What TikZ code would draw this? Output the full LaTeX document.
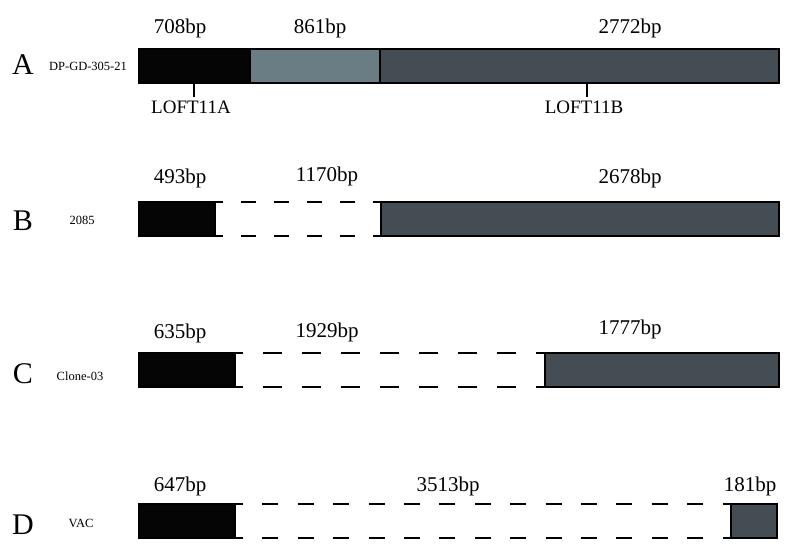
\documentclass[tikz,border=0pt]{standalone}
\usepackage{fontspec}
\setmainfont{Liberation Serif}
\definecolor{segblack}{HTML}{050505}
\definecolor{seggrey}{HTML}{6A7D84}
\definecolor{segdark}{HTML}{444C54}
\begin{document}
\begin{tikzpicture}[x=1pt,y=-1pt,
  seg/.style={draw=black, line width=1.3pt, anchor=north west, inner sep=0pt, outer sep=0pt, minimum height=34pt},
  bplabel/.style={anchor=base, inner sep=0pt, font=\fontsize{21}{21}\selectfont},
  rowletter/.style={anchor=base, inner sep=0pt, font=\fontsize{30}{30}\selectfont},
  samplename/.style={anchor=base, inner sep=0pt, font=\fontsize{12.5}{12.5}\selectfont},
  locus/.style={anchor=base, inner sep=0pt, font=\fontsize{19}{19}\selectfont},
  gapline/.style={line width=1.4pt}
]
\useasboundingbox[fill=white] (0,0) rectangle (786,548);

% Row A
\node[rowletter] (la) at (23,75) {A};
\node[samplename] (na) at (88,71) {DP-GD-305-21};
\node[seg, fill=segblack, minimum width=111pt] (a1) at (139,49) {};
\node[seg, fill=seggrey, minimum width=130pt] (a2) at (250,49) {};
\node[seg, fill=segdark, minimum width=399pt] (a3) at (380,49) {};
\node[bplabel] (ta1) at (180,34) {708bp};
\node[bplabel] (ta2) at (320,34) {861bp};
\node[bplabel] (ta3) at (630,34) {2772bp};
\coordinate (pa) at (194,83);
\coordinate (pb) at (587,83);
\node[locus] (loa) at (191,114) {LOFT11A};
\node[locus] (lob) at (584,114) {LOFT11B};
\draw[line width=1.3pt] (pa) -- ++(0,14);
\draw[line width=1.3pt] (pb) -- ++(0,14);

% Row B
\node[rowletter] (lb) at (23,230) {B};
\node[samplename] (nb) at (82,224) {2085};
\node[seg, fill=segblack, minimum width=76pt] (b1) at (139,202) {};
\node[seg, fill=segdark, minimum width=398pt] (b3) at (381,202) {};
\node[bplabel] (tb1) at (180,183) {493bp};
\node[bplabel] (tb2) at (327,181) {1170bp};
\node[bplabel] (tb3) at (630,183) {2678bp};
\draw[gapline, dash pattern=on 15pt off 18pt, dash phase=7pt] (b1.north east) -- (b3.north west);
\draw[gapline, dash pattern=on 15pt off 18pt, dash phase=7pt] (b1.south east) -- (b3.south west);

% Row C
\node[rowletter] (lc) at (23,383) {C};
\node[samplename] (nc) at (80,380) {Clone-03};
\node[seg, fill=segblack, minimum width=96pt] (c1) at (139,353) {};
\node[seg, fill=segdark, minimum width=234pt] (c3) at (545,353) {};
\node[bplabel] (tc1) at (180,338) {635bp};
\node[bplabel] (tc2) at (327,337) {1929bp};
\node[bplabel] (tc3) at (630,334) {1777bp};
\draw[gapline, dash pattern=on 19.5pt off 19.5pt, dash phase=11.5pt] (c1.north east) -- (c3.north west);
\draw[gapline, dash pattern=on 19.5pt off 19.5pt, dash phase=11.5pt] (c1.south east) -- (c3.south west);

% Row D
\node[rowletter] (ld) at (23,534) {D};
\node[samplename] (nd) at (81,527) {VAC};
\node[seg, fill=segblack, minimum width=96pt] (d1) at (139,504) {};
\node[seg, fill=segdark, minimum width=46pt] (d3) at (731,504) {};
\node[bplabel] (td1) at (180,491) {647bp};
\node[bplabel] (td2) at (448,491) {3513bp};
\node[bplabel] (td3) at (750,491) {181bp};
\draw[gapline, dash pattern=on 16pt off 19.4pt, dash phase=8pt] (d1.north east) -- (d3.north west);
\draw[gapline, dash pattern=on 16pt off 19.4pt, dash phase=8pt] (d1.south east) -- (d3.south west);
\end{tikzpicture}
\end{document}
